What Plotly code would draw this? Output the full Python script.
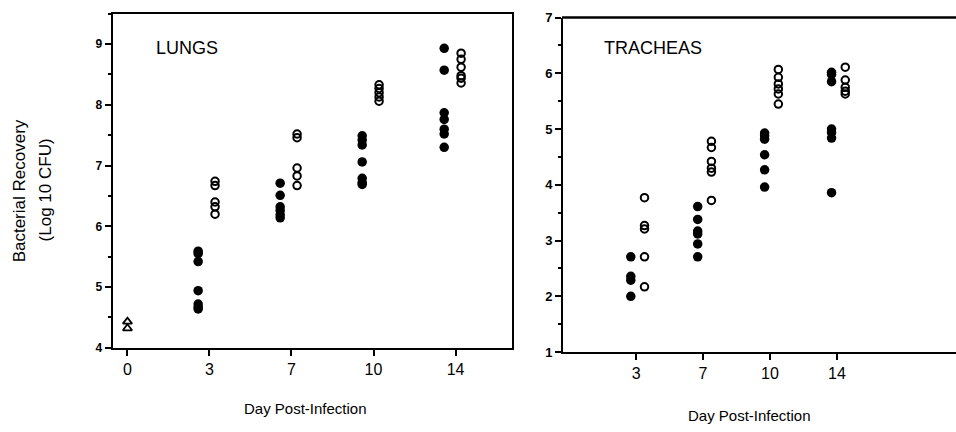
import plotly.graph_objects as go

# ---------------- data ----------------
lung_days = ["0", "3", "7", "10", "14"]
lung_day0_triangle = [4.43, 4.32]
lung_filled_d3 = [5.59, 5.55, 5.42, 4.94, 4.72, 4.67, 4.64]
lung_open_d3 = [6.74, 6.67, 6.40, 6.32, 6.20]
lung_filled_d7 = [6.71, 6.51, 6.32, 6.26, 6.19, 6.14]
lung_open_d7 = [7.52, 7.46, 6.96, 6.83, 6.67]
lung_filled_d10 = [7.49, 7.42, 7.34, 7.06, 6.79, 6.72, 6.69]
lung_open_d10 = [8.33, 8.27, 8.20, 8.13, 8.06]
lung_filled_d14 = [8.93, 8.57, 7.87, 7.76, 7.60, 7.52, 7.30]
lung_open_d14 = [8.85, 8.75, 8.62, 8.48, 8.44, 8.36]

trach_days = ["3", "7", "10", "14"]
trach_filled_d3 = [2.71, 2.36, 2.29, 2.00]
trach_open_d3 = [3.77, 3.27, 3.21, 2.71, 2.17]
trach_filled_d7 = [3.61, 3.38, 3.17, 3.12, 2.94, 2.71]
trach_open_d7 = [4.78, 4.67, 4.42, 4.30, 4.23, 3.72]
trach_filled_d10 = [4.93, 4.88, 4.82, 4.54, 4.27, 3.96]
trach_open_d10 = [6.07, 5.93, 5.81, 5.72, 5.63, 5.45]
trach_filled_d14 = [6.02, 5.98, 5.85, 5.00, 4.94, 4.84, 3.86]
trach_open_d14 = [6.11, 5.88, 5.75, 5.68, 5.63]

lung_filled = [lung_filled_d3, lung_filled_d7, lung_filled_d10, lung_filled_d14]
lung_open = [lung_open_d3, lung_open_d7, lung_open_d10, lung_open_d14]
trach_filled = [trach_filled_d3, trach_filled_d7, trach_filled_d10, trach_filled_d14]
trach_open = [trach_open_d3, trach_open_d7, trach_open_d10, trach_open_d14]

FONT = "Liberation Sans, Arial, sans-serif"
W, H = 956, 432

fig = go.Figure()

def add_points(xs, ys, symbol, xaxis, yaxis, size, lw):
    fig.add_trace(go.Scatter(
        x=xs, y=ys, mode="markers", xaxis=xaxis, yaxis=yaxis,
        marker=dict(symbol=symbol, size=size, color="black",
                    line=dict(color="black", width=lw)),
        showlegend=False, hoverinfo="skip", cliponaxis=False))

# Lungs panel
add_points([0] * len(lung_day0_triangle), lung_day0_triangle, "triangle-up-open", "x", "y", 8, 1.8)
for i, (f, o) in enumerate(zip(lung_filled, lung_open)):
    k = i + 1
    add_points([k - 0.138] * len(f), f, "circle", "x", "y", 9.5, 0)
    add_points([k + 0.068] * len(o), o, "circle-open", "x", "y", 7.5, 2)

# Tracheas panel
for i, (f, o) in enumerate(zip(trach_filled, trach_open)):
    k = i + 1
    add_points([k - 0.08] * len(f), f, "circle", "x2", "y2", 9.5, 0)
    add_points([k + 0.125] * len(o), o, "circle-open", "x2", "y2", 7.5, 2)

def px_x(p):
    return p / W

def px_y(p):
    return 1 - p / H

axis_common = dict(showgrid=False, zeroline=False, showline=True, linecolor="black",
                   linewidth=2, ticks="outside", tickcolor="black", tickwidth=1.5)

fig.update_layout(
    width=W, height=H,
    autosize=False,
    margin=dict(l=0, r=0, t=0, b=0),
    paper_bgcolor="white", plot_bgcolor="white",
    font=dict(family=FONT, color="black"),
    xaxis=dict(**axis_common, domain=[px_x(112.7), px_x(511.7)], range=[-0.18, 4.685],
               tickvals=[0, 1, 2, 3, 4], ticktext=lung_days, ticklen=6,
               tickfont=dict(size=16, family=FONT), mirror=True, anchor="y"),
    yaxis=dict(**axis_common, domain=[px_y(353), px_y(7)], range=[4, 9.5],
               tickvals=[4, 5, 6, 7, 8, 9], ticklen=6,
               tickfont=dict(size=12, family=FONT, weight="bold"), mirror=True, anchor="x",
               minor=dict(dtick=0.5, tick0=4, ticks="outside", ticklen=3, tickcolor="black", tickwidth=1.5)),
    xaxis2=dict(**axis_common, domain=[px_x(563), 1.0], range=[-0.093, 5.78],
                tickvals=[1, 2, 3, 4], ticktext=trach_days, ticklen=6,
                tickfont=dict(size=16, family=FONT), mirror=False, anchor="y2"),
    yaxis2=dict(**axis_common, domain=[px_y(357.5), px_y(11)], range=[1, 7],
                tickvals=[1, 2, 3, 4, 5, 6, 7], ticklen=6,
                tickfont=dict(size=13, family=FONT, weight="bold"), anchor="x2", mirror=False,
                minor=dict(dtick=0.5, tick0=1, ticks="outside", ticklen=3, tickcolor="black", tickwidth=1.5)),
    shapes=[
        dict(type="line", xref="paper", yref="paper", x0=px_x(562), x1=1.0,
             y0=px_y(11), y1=px_y(11), line=dict(color="black", width=2.5)),
    ],
    annotations=[
        dict(text="LUNGS", x=px_x(154), y=px_y(42), xref="paper", yref="paper",
             xanchor="left", yanchor="middle", showarrow=False, font=dict(size=18, family=FONT)),
        dict(text="TRACHEAS", x=px_x(602), y=px_y(42), xref="paper", yref="paper",
             xanchor="left", yanchor="middle", showarrow=False, font=dict(size=18, family=FONT)),
        dict(text="Day Post-Infection", x=px_x(305), y=px_y(416), xref="paper", yref="paper",
             xanchor="center", yanchor="middle", showarrow=False, font=dict(size=15, family=FONT)),
        dict(text="Day Post-Infection", x=px_x(749), y=px_y(423), xref="paper", yref="paper",
             xanchor="center", yanchor="middle", showarrow=False, font=dict(size=15, family=FONT)),
        dict(text="Bacterial Recovery", x=px_x(19), y=px_y(191), xref="paper", yref="paper",
             xanchor="center", yanchor="middle", showarrow=False, textangle=-90,
             font=dict(size=17, family=FONT)),
        dict(text="(Log 10 CFU)", x=px_x(45), y=px_y(190), xref="paper", yref="paper",
             xanchor="center", yanchor="middle", showarrow=False, textangle=-90,
             font=dict(size=17, family=FONT)),
    ],
)

fig.write_html(
    "out.html",
    config={"displayModeBar": False},
    post_script="document.body.style.margin='0';document.body.style.overflow='hidden';",
)
